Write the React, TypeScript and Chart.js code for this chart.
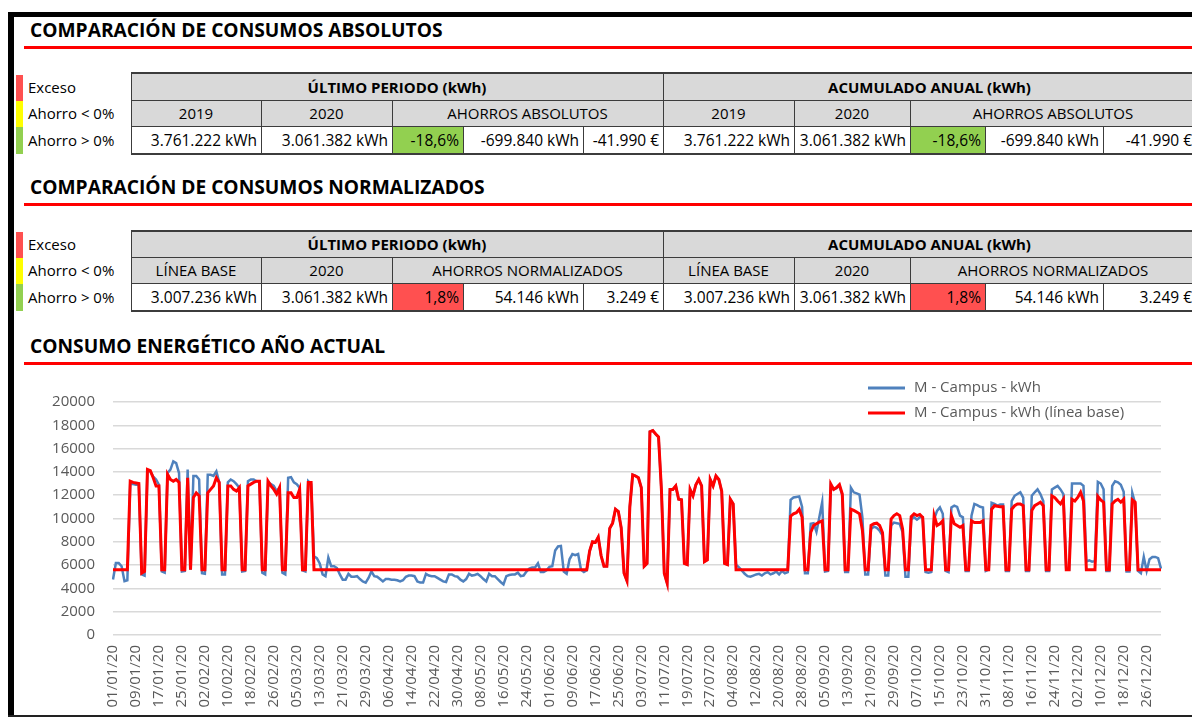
import React, { useEffect, useRef } from "react";
import { Chart, registerables } from "chart.js";

Chart.register(...registerables);

const FONT = '"Open Sans", "Noto Sans", sans-serif';
const BLUE = "#4f81bd";
const RED = "#ff0000";

// ---------- Tables ----------
const legendLabels = ["Exceso", "Ahorro < 0%", "Ahorro > 0%"];
const legendColors = ["#ff5050", "#ffff00", "#92d050"];
const groupHeaders = ["ÚLTIMO PERIODO (kWh)", "ACUMULADO ANUAL (kWh)"];
const absSubHeaders = ["2019", "2020", "AHORROS ABSOLUTOS"];
const absValues = ["3.761.222 kWh", "3.061.382 kWh", "-18,6%", "-699.840 kWh", "-41.990 €"];
const normSubHeaders = ["LÍNEA BASE", "2020", "AHORROS NORMALIZADOS"];
const normValues = ["3.007.236 kWh", "3.061.382 kWh", "1,8%", "54.146 kWh", "3.249 €"];
const titles = [
  "COMPARACIÓN DE CONSUMOS ABSOLUTOS",
  "COMPARACIÓN DE CONSUMOS NORMALIZADOS",
  "CONSUMO ENERGÉTICO AÑO ACTUAL",
];

// ---------- Chart data (2020, daily) ----------
const monthDays = [31, 29, 31, 30, 31, 30, 31, 31, 30, 31, 30, 31];
const seriesNames = ["M - Campus - kWh", "M - Campus - kWh (línea base)"];
const yTicks = [0, 2000, 4000, 6000, 8000, 10000, 12000, 14000, 16000, 18000, 20000];
const tickEvery = 8;

// M - Campus - kWh
const consumoReal = [
  // Ene
  4760, 6170, 6170, 5900, 4620, 4700, 13000, 12950, 12900, 12900, 5200, 5100, 14100, 14050, 13600, 13350,
  12900, 5450, 5350, 13900, 14200, 14900, 14750, 13900, 5450, 5500, 14200, 5600, 13650, 13650, 13350,
  // Feb
  5300, 5250, 13750, 13750, 13650, 14050, 13100, 5200, 5200, 13100, 13350, 13200, 12950, 12650, 5450,
  5500, 13200, 13350, 13350, 13200, 13200, 5350, 5200, 13150, 12950, 12800, 12350, 12650, 5350,
  // Mar
  5200, 13500, 13550, 13100, 12950, 12650, 5550, 5450, 13200, 12950, 6750, 6600, 6150, 5200, 5050, 6650,
  5900, 5900, 5750, 5200, 4750, 4750, 5250, 5000, 5000, 5050, 4800, 4600, 4500, 4900, 5450,
  // Abr
  5050, 5000, 4800, 4600, 4800, 4800, 4750, 4750, 4700, 4600, 4700, 5000, 5100, 5100, 5050, 4600, 4500,
  4500, 5250, 5100, 5050, 5050, 4900, 4750, 4600, 4550, 5200, 5200, 5050, 5000,
  // May
  4750, 4600, 4800, 5250, 5100, 5150, 5250, 5050, 4800, 4600, 5250, 5050, 5050, 4800, 4550, 4350, 5050,
  5150, 5200, 5200, 5350, 5050, 5100, 5450, 5700, 5800, 5800, 6150, 5400, 5400, 5550,
  // Jun
  5850, 5900, 7250, 7600, 7650, 5450, 5250, 6500, 6950, 6850, 6950, 5600, 5400, 5550, 7200, 8000, 7950,
  8400, 6800, 5900, 5900, 9150, 9600, 10800, 10600, 9200, 5300, 4650, 11000, 13750,
  // Jul
  13650, 13500, 12650, 5900, 6150, 17450, 17550, 17250, 17000, 12500, 5300, 4450, 12500, 12500, 12800,
  11650, 11600, 6150, 6050, 12500, 11950, 12900, 13350, 12800, 6300, 6450, 13350, 12800, 13650, 13350, 12350,
  // Ago
  6150, 6050, 11650, 11250, 6050, 5800, 5550, 5250, 5050, 5000, 5100, 5200, 5250, 5100, 5300, 5400, 5200,
  5300, 5450, 5200, 5500, 5300, 5400, 11600, 11800, 11850, 11900, 11000, 5300, 5300, 9550,
  // Sep
  9600, 8850, 10100, 11400, 5450, 5500, 12900, 12500, 12600, 12850, 12000, 5400, 5400, 12650, 12250,
  12150, 12050, 10100, 5200, 5200, 9100, 9300, 9200, 8950, 8550, 5100, 5100, 9400, 9650, 9600,
  // Oct
  9550, 8800, 5000, 5000, 9950, 10100, 9900, 10100, 10100, 5400, 5350, 5400, 9950, 10650, 10950, 10400,
  5500, 5400, 10950, 11100, 11000, 10250, 10100, 5500, 5500, 10250, 11250, 11150, 11000, 10950, 5500,
  // Nov
  5600, 11350, 11250, 11100, 11200, 11200, 5500, 5500, 11500, 11950, 12100, 12250, 11800, 5500, 5500,
  11950, 12250, 12500, 12100, 11500, 5500, 5500, 12500, 12650, 12800, 12500, 12100, 5600, 5600, 13000,
  // Dic
  13000, 13000, 13000, 12800, 6300, 6400, 6300, 6350, 13150, 13000, 12500, 5500, 5500, 12800, 13200,
  13100, 12900, 12300, 5450, 5450, 12200, 11300, 5500, 5300, 6700, 5500, 6500, 6700, 6700, 6600, 5700,
];

// M - Campus - kWh (línea base)
const lineaBase = [
  // Ene
  5600, 5600, 5600, 5600, 5600, 5600, 13200, 13100, 13050, 13000, 5300, 5450, 14200, 14100, 13500, 12800,
  12800, 5600, 5600, 13800, 13350, 13200, 13350, 13100, 5600, 5600, 13500, 5600, 11800, 12200, 11950,
  // Feb
  5600, 5600, 12200, 12500, 12800, 13500, 13100, 5600, 5600, 12800, 12800, 12500, 12350, 12650, 5600,
  5600, 12800, 12950, 13100, 13200, 13200, 5600, 5600, 13200, 12800, 12500, 12100, 12650, 5600,
  // Mar
  5600, 12200, 12200, 11800, 11800, 12500, 5600, 5600, 13100, 13100, 5600, 5600, 5600, 5600, 5600, 5600,
  5600, 5600, 5600, 5600, 5600, 5600, 5600, 5600, 5600, 5600, 5600, 5600, 5600, 5600, 5600,
  // Abr
  5600, 5600, 5600, 5600, 5600, 5600, 5600, 5600, 5600, 5600, 5600, 5600, 5600, 5600, 5600, 5600, 5600,
  5600, 5600, 5600, 5600, 5600, 5600, 5600, 5600, 5600, 5600, 5600, 5600, 5600,
  // May
  5600, 5600, 5600, 5600, 5600, 5600, 5600, 5600, 5600, 5600, 5600, 5600, 5600, 5600, 5600, 5600, 5600,
  5600, 5600, 5600, 5600, 5600, 5600, 5600, 5600, 5600, 5600, 5600, 5600, 5600, 5600,
  // Jun
  5600, 5600, 5600, 5600, 5600, 5600, 5600, 5600, 5600, 5600, 5600, 5600, 5600, 5600, 7200, 8000, 7950,
  8400, 6800, 5900, 5900, 9150, 9600, 10800, 10600, 9200, 5300, 4650, 11000, 13750,
  // Jul
  13650, 13500, 12650, 5900, 6150, 17450, 17550, 17250, 17000, 12500, 5300, 4450, 12500, 12500, 12800,
  11650, 11600, 6150, 6050, 12500, 11950, 12900, 13350, 12800, 6300, 6450, 13350, 12800, 13650, 13350, 12350,
  // Ago
  6150, 6050, 11650, 11250, 5600, 5600, 5600, 5600, 5600, 5600, 5600, 5600, 5600, 5600, 5600, 5600, 5600,
  5600, 5600, 5600, 5600, 5600, 5600, 10200, 10400, 10500, 10800, 10100, 5600, 5600, 8800,
  // Sep
  9400, 9550, 9700, 9800, 5600, 5600, 12950, 12500, 12650, 12900, 12100, 5600, 5600, 10800, 10700, 10550,
  10400, 9000, 5600, 5600, 9400, 9550, 9600, 9400, 8800, 5600, 5600, 9950, 10250, 10400,
  // Oct
  10250, 9100, 5600, 5600, 10150, 10400, 10250, 10350, 10100, 5600, 5600, 5600, 10250, 9400, 9550, 9800,
  5600, 5600, 10250, 9550, 9400, 9250, 9400, 5600, 5600, 9800, 9650, 9650, 9650, 9800, 5600,
  // Nov
  5600, 10800, 11100, 11050, 11000, 11000, 5600, 5600, 10800, 11100, 11250, 11250, 11100, 5600, 5600,
  10700, 11100, 11250, 11400, 11100, 5600, 5600, 11950, 11800, 11500, 11250, 11650, 5600, 5600, 11650,
  // Dic
  11500, 11800, 12250, 11500, 5600, 5600, 5600, 5600, 11900, 11600, 11400, 5600, 5600, 11250, 11500,
  11650, 11400, 11650, 5600, 5600, 11600, 11400, 5600, 5600, 5600, 5600, 5600, 5600, 5600, 5600, 5600,
];

const fechas: string[] = [];
monthDays.forEach((n, m) => {
  for (let d = 1; d <= n; d++) {
    fechas.push(`${String(d).padStart(2, "0")}/${String(m + 1).padStart(2, "0")}/20`);
  }
});

// ---------- layout helpers ----------
const colX = [131, 261, 392, 463, 583, 663, 794, 910, 985, 1103, 1196];
const LINE = "#3c3c3c";

type Span = { a: number; b: number; text: string; bg: string; bold?: boolean; align: "center" | "right"; size: number };

function DataTable(props: { top: number; heights: number[]; sub: string[]; values: string[]; pctBg: string }) {
  const { top, heights, sub, values, pctBg } = props;
  const ys = [top, top + heights[0], top + heights[0] + heights[1], top + heights[0] + heights[1] + heights[2]];
  const rows: Span[][] = [
    [
      { a: 0, b: 5, text: groupHeaders[0], bg: "#d9d9d9", bold: true, align: "center", size: 15 },
      { a: 5, b: 10, text: groupHeaders[1], bg: "#d9d9d9", bold: true, align: "center", size: 15 },
    ],
    [
      { a: 0, b: 1, text: sub[0], bg: "#d9d9d9", align: "center", size: 15 },
      { a: 1, b: 2, text: sub[1], bg: "#d9d9d9", align: "center", size: 15 },
      { a: 2, b: 5, text: sub[2], bg: "#d9d9d9", align: "center", size: 15 },
      { a: 5, b: 6, text: sub[0], bg: "#d9d9d9", align: "center", size: 15 },
      { a: 6, b: 7, text: sub[1], bg: "#d9d9d9", align: "center", size: 15 },
      { a: 7, b: 10, text: sub[2], bg: "#d9d9d9", align: "center", size: 15 },
    ],
    [0, 1, 2, 3, 4, 5, 6, 7, 8, 9].map((i) => ({
      a: i,
      b: i + 1,
      text: values[i % 5],
      bg: i % 5 === 2 ? pctBg : "#ffffff",
      align: "right" as const,
      size: 15.5,
    })),
  ];
  const els: React.ReactNode[] = [];
  rows.forEach((row, r) => {
    row.forEach((c, k) => {
      els.push(
        <div
          key={`c${r}-${k}`}
          style={{
            position: "absolute",
            left: colX[c.a],
            top: ys[r],
            width: colX[c.b] - colX[c.a],
            height: ys[r + 1] - ys[r],
            background: c.bg,
            display: "flex",
            alignItems: "center",
            justifyContent: c.align === "center" ? "center" : "flex-end",
            paddingRight: c.align === "right" ? 4 : 0,
            boxSizing: "border-box",
            fontWeight: c.bold ? 700 : 400,
            fontSize: c.size,
            whiteSpace: "nowrap",
            color: "#000",
          }}
        >
          {c.text}
        </div>
      );
      els.push(
        <div
          key={`v${r}-${k}`}
          style={{ position: "absolute", left: colX[c.a], top: ys[r], width: 1, height: ys[r + 1] - ys[r] + 1, background: LINE }}
        />
      );
    });
  });
  ys.forEach((y, i) => {
    const outer = i === 0 || i === 3;
    els.push(
      <div
        key={`h${i}`}
        style={{ position: "absolute", left: colX[0], top: outer && i === 0 ? y - 1 : y, width: 1196 - colX[0], height: outer ? 2 : 1, background: LINE }}
      />
    );
  });
  return <>{els}</>;
}

function ColorLegend(props: { top: number; heights: number[] }) {
  const { top, heights } = props;
  let y = top;
  return (
    <>
      {legendLabels.map((label, i) => {
        const t = y;
        y += heights[i];
        return (
          <React.Fragment key={label}>
            <div style={{ position: "absolute", left: 16, top: t + 1, width: 7, height: heights[i], background: legendColors[i] }} />
            <div
              style={{
                position: "absolute",
                left: 28,
                top: t,
                height: heights[i],
                display: "flex",
                alignItems: "center",
                fontSize: 15,
                whiteSpace: "nowrap",
              }}
            >
              {label}
            </div>
          </React.Fragment>
        );
      })}
    </>
  );
}

function SectionTitle(props: { text: string; top: number; lineTop: number }) {
  return (
    <>
      <div
        style={{
          position: "absolute",
          left: 30,
          top: props.top,
          fontWeight: 700,
          fontSize: 19.2,
          lineHeight: "24px",
          whiteSpace: "nowrap",
          color: "#000",
        }}
      >
        {props.text}
      </div>
      <div style={{ position: "absolute", left: 24, top: props.lineTop, width: 1168, height: 3, background: RED }} />
    </>
  );
}

const legendPlugin = {
  id: "excelLegend",
  afterDraw(chart: any) {
    const ctx = chart.ctx as CanvasRenderingContext2D;
    const rows = [18, 43];
    ctx.save();
    chart.data.datasets.forEach((ds: any, i: number) => {
      const y = rows[i];
      ctx.strokeStyle = ds.borderColor;
      ctx.lineWidth = 3;
      ctx.beginPath();
      ctx.moveTo(868, y);
      ctx.lineTo(905, y);
      ctx.stroke();
      ctx.fillStyle = "#595959";
      ctx.font = `15px ${FONT}`;
      ctx.textBaseline = "middle";
      ctx.textAlign = "left";
      ctx.fillText(ds.label, 914, y);
    });
    ctx.restore();
  },
};

function EnergyChart() {
  const ref = useRef<HTMLCanvasElement | null>(null);
  useEffect(() => {
    if (!ref.current) return;
    const chart = new Chart(ref.current, {
      type: "line",
      data: {
        labels: fechas,
        datasets: [
          {
            label: seriesNames[0],
            data: consumoReal,
            borderColor: BLUE,
            backgroundColor: BLUE,
            borderWidth: 2.5,
            pointRadius: 0,
            tension: 0,
            order: 1,
          },
          {
            label: seriesNames[1],
            data: lineaBase,
            borderColor: RED,
            backgroundColor: RED,
            borderWidth: 3,
            pointRadius: 0,
            tension: 0,
            order: 0,
          },
        ],
      },
      options: {
        responsive: false,
        animation: false,
        events: [],
        layout: { padding: { left: 0, right: 31, top: 32, bottom: 0 } },
        plugins: { legend: { display: false }, tooltip: { enabled: false } },
        scales: {
          x: {
            grid: { display: false, drawTicks: false },
            border: { display: false },
            ticks: {
              autoSkip: false,
              minRotation: 90,
              maxRotation: 90,
              padding: 10,
              color: "#595959",
              font: { family: FONT, size: 15 },
              callback: (_v: any, i: number) => (i % tickEvery === 0 ? fechas[i] : ""),
            },
            afterFit: (s: any) => {
              s.height = 82;
            },
          },
          y: {
            min: yTicks[0],
            max: yTicks[yTicks.length - 1],
            ticks: {
              stepSize: yTicks[1] - yTicks[0],
              padding: 18,
              color: "#595959",
              font: { family: FONT, size: 15 },
              callback: (v: any) => String(v),
            },
            grid: { color: "#d9d9d9", lineWidth: 1.5, drawTicks: false },
            border: { display: false },
            afterFit: (s: any) => {
              s.width = 113;
            },
          },
        },
      },
      plugins: [legendPlugin],
    } as any);
    return () => chart.destroy();
  }, []);
  return (
    <canvas
      ref={ref}
      width={1192}
      height={347}
      style={{ position: "absolute", left: 0, top: 370, width: 1192, height: 347 }}
    />
  );
}

export default function App() {
  return (
    <div
      style={{
        position: "fixed",
        left: 0,
        top: 0,
        width: 1192,
        height: 717,
        overflow: "hidden",
        background: "#ffffff",
        fontFamily: FONT,
        color: "#000",
      }}
    >
      {/* frame */}
      <div style={{ position: "absolute", left: 8, top: 12, width: 1184, height: 5, background: "#000" }} />
      <div style={{ position: "absolute", left: 8, top: 12, width: 6, height: 705, background: "#000" }} />
      <div style={{ position: "absolute", left: 8, top: 715, width: 1184, height: 2, background: "#222" }} />

      <SectionTitle text={titles[0]} top={18} lineTop={46} />
      <ColorLegend top={74} heights={[26, 26, 27]} />
      <DataTable top={73} heights={[27, 26, 27]} sub={absSubHeaders} values={absValues} pctBg="#92d050" />

      <SectionTitle text={titles[1]} top={175} lineTop={203} />
      <ColorLegend top={231} heights={[26, 26, 27]} />
      <DataTable top={231} heights={[26, 26, 27]} sub={normSubHeaders} values={normValues} pctBg="#ff5050" />

      <SectionTitle text={titles[2]} top={334} lineTop={362} />
      <EnergyChart />
    </div>
  );
}
